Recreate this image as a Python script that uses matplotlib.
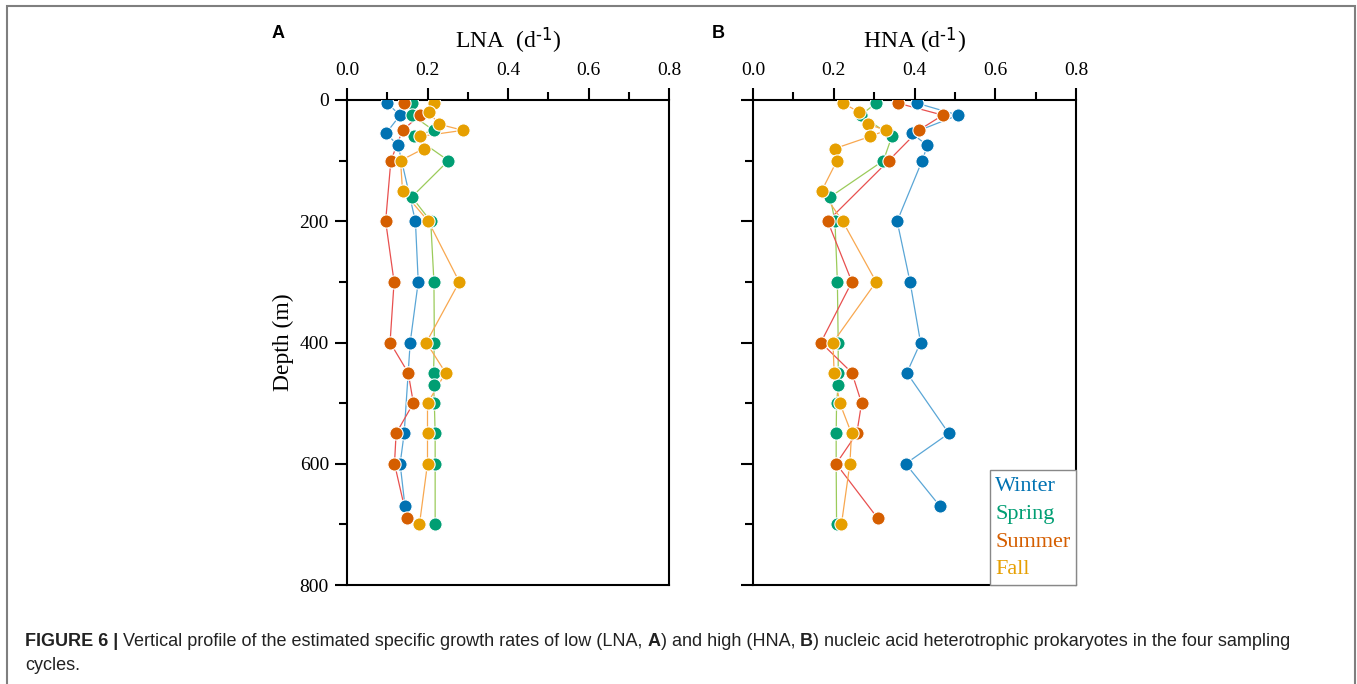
import numpy as np
import matplotlib.pyplot as plt
from matplotlib.lines import Line2D
from matplotlib.patches import Rectangle
from matplotlib.ticker import MultipleLocator

plt.rcParams['mathtext.default'] = 'regular'
plt.rcParams['font.family'] = 'Liberation Serif'

seasons = ['Winter', 'Spring', 'Summer', 'Fall']
dot_colors = ['#0072B2', '#009E73', '#D55E00', '#E69F00']
line_colors = ['#5AA6D6', '#9BCB5A', '#E8504F', '#F8A850']

# panel A - LNA growth rate (d-1) vs depth (m)
lna_winter_depth = [5, 25, 55, 75, 200, 300, 400, 450, 550, 600, 670]
lna_winter = [0.099, 0.132, 0.097, 0.127, 0.170, 0.177, 0.157, 0.152, 0.142, 0.132, 0.144]
lna_spring_depth = [5, 25, 50, 60, 100, 160, 200, 300, 400, 450, 470, 500, 550, 600, 700]
lna_spring = [0.162, 0.162, 0.215, 0.166, 0.252, 0.161, 0.208, 0.216, 0.217, 0.215, 0.215,
              0.217, 0.219, 0.219, 0.219]
lna_summer_depth = [5, 25, 50, 100, 200, 300, 400, 450, 500, 550, 600, 690]
lna_summer = [0.142, 0.181, 0.138, 0.109, 0.096, 0.117, 0.107, 0.152, 0.165, 0.122, 0.118, 0.149]
lna_fall_depth = [5, 20, 40, 50, 60, 80, 100, 150, 200, 300, 400, 450, 500, 550, 600, 700]
lna_fall = [0.216, 0.203, 0.229, 0.288, 0.182, 0.191, 0.133, 0.138, 0.202, 0.279, 0.197,
            0.245, 0.200, 0.200, 0.200, 0.180]

# panel B - HNA
hna_winter_depth = [5, 25, 55, 75, 100, 200, 300, 400, 450, 550, 600, 670]
hna_winter = [0.405, 0.508, 0.393, 0.432, 0.419, 0.357, 0.389, 0.415, 0.381, 0.485, 0.378, 0.463]
hna_spring_depth = [5, 25, 60, 100, 160, 200, 300, 400, 450, 470, 500, 550, 600, 700]
hna_spring = [0.305, 0.267, 0.344, 0.323, 0.191, 0.203, 0.209, 0.211, 0.211, 0.211, 0.207,
              0.206, 0.206, 0.207]
hna_summer_depth = [5, 25, 50, 100, 200, 300, 400, 450, 500, 550, 600, 690]
hna_summer = [0.358, 0.470, 0.410, 0.336, 0.185, 0.245, 0.168, 0.245, 0.269, 0.257, 0.206, 0.309]
hna_fall_depth = [5, 20, 40, 50, 60, 80, 100, 150, 200, 300, 400, 450, 500, 550, 600, 700]
hna_fall = [0.222, 0.263, 0.286, 0.329, 0.291, 0.203, 0.208, 0.170, 0.222, 0.305, 0.198,
            0.201, 0.215, 0.244, 0.240, 0.219]

lna = [(lna_winter, lna_winter_depth), (lna_spring, lna_spring_depth),
       (lna_summer, lna_summer_depth), (lna_fall, lna_fall_depth)]
hna = [(hna_winter, hna_winter_depth), (hna_spring, hna_spring_depth),
       (hna_summer, hna_summer_depth), (hna_fall, hna_fall_depth)]

fig = plt.figure(figsize=(13.57, 6.84), dpi=100)
ax_a = fig.add_axes([347 / 1357, 99 / 684, 322 / 1357, 485 / 684])
ax_b = fig.add_axes([753 / 1357, 99 / 684, 323 / 1357, 485 / 684])


def draw_panel(ax, series, title):
    # lines first, then dots on top
    for (x, d), lc in zip(series, line_colors):
        ax.plot(x, d, color=lc, lw=0.9, zorder=2)
    for (x, d), dc in zip(series, dot_colors):
        ax.plot(x, d, ls='none', marker='o', ms=9.5, mfc=dc, mec='white', mew=0.8, zorder=3)
    ax.set_xlim(0, 0.8)
    ax.set_ylim(800, 0)
    ax.xaxis.set_major_locator(MultipleLocator(0.2))
    ax.xaxis.set_minor_locator(MultipleLocator(0.1))
    ax.yaxis.set_major_locator(MultipleLocator(200))
    ax.yaxis.set_minor_locator(MultipleLocator(100))
    ax.xaxis.set_major_formatter(plt.FuncFormatter(lambda v, p: f'{v:.1f}'))
    ax.tick_params(axis='x', which='both', top=True, bottom=False, labeltop=True,
                   labelbottom=False, direction='out', width=1.5, labelsize=14, pad=6)
    ax.tick_params(axis='x', which='major', length=9)
    ax.tick_params(axis='x', which='minor', length=6)
    ax.tick_params(axis='y', which='both', left=True, right=False, direction='out',
                   width=1.5, labelsize=14, pad=4)
    ax.tick_params(axis='y', which='major', length=9)
    ax.tick_params(axis='y', which='minor', length=6)
    for s in ax.spines.values():
        s.set_linewidth(1.5)
    ax.xaxis.set_label_position('top')
    ax.set_xlabel(title, fontsize=17, labelpad=10)


draw_panel(ax_a, lna, r'LNA  (d$^{\text{-1}}$)')
draw_panel(ax_b, hna, r'HNA (d$^{\text{-1}}$)')
ax_a.set_ylabel('Depth (m)', fontsize=17, labelpad=4)
ax_b.tick_params(axis='y', labelleft=False)

handles = [Line2D([], [], ls='none') for _ in seasons]
leg = ax_b.legend(handles, seasons, loc='lower right', borderaxespad=0, handlelength=0,
                  handletextpad=0, labelcolor=dot_colors, fontsize=16, frameon=True,
                  fancybox=False, edgecolor='#888888', framealpha=1, labelspacing=0.33,
                  borderpad=0.25)
leg.get_frame().set_linewidth(1.0)

fig.text(278 / 1357, 1 - 33 / 684, 'A', family='Liberation Sans', weight='bold',
         fontsize=13, ha='center', va='center')
fig.text(718 / 1357, 1 - 33 / 684, 'B', family='Liberation Sans', weight='bold',
         fontsize=13, ha='center', va='center')

# outer frame
fig.patches.append(Rectangle((7 / 1357, -0.05), 1348 / 1357, 1.05 - 6 / 684,
                             transform=fig.transFigure, fill=False, ec='#7f7f7f', lw=1.5))

# caption with bold pieces
fig.canvas.draw()
renderer = fig.canvas.get_renderer()
pieces = [('FIGURE 6 |', 'bold'), (' Vertical profile of the estimated specific growth rates of low (LNA, ', 'normal'),
          ('A', 'bold'), (') and high (HNA, ', 'normal'), ('B', 'bold'),
          (') nucleic acid heterotrophic prokaryotes in the four sampling', 'normal')]
x = 25
for txt, w in pieces:
    t = fig.text(x / 1357, 1 - 641 / 684, txt, family='Liberation Sans', weight=w,
                 fontsize=13, va='center', ha='left', color='#222222')
    x += t.get_window_extent(renderer).width
fig.text(25 / 1357, 1 - 665 / 684, 'cycles.', family='Liberation Sans', fontsize=13,
         va='center', ha='left', color='#222222')

fig.savefig('out.png', dpi=100)
